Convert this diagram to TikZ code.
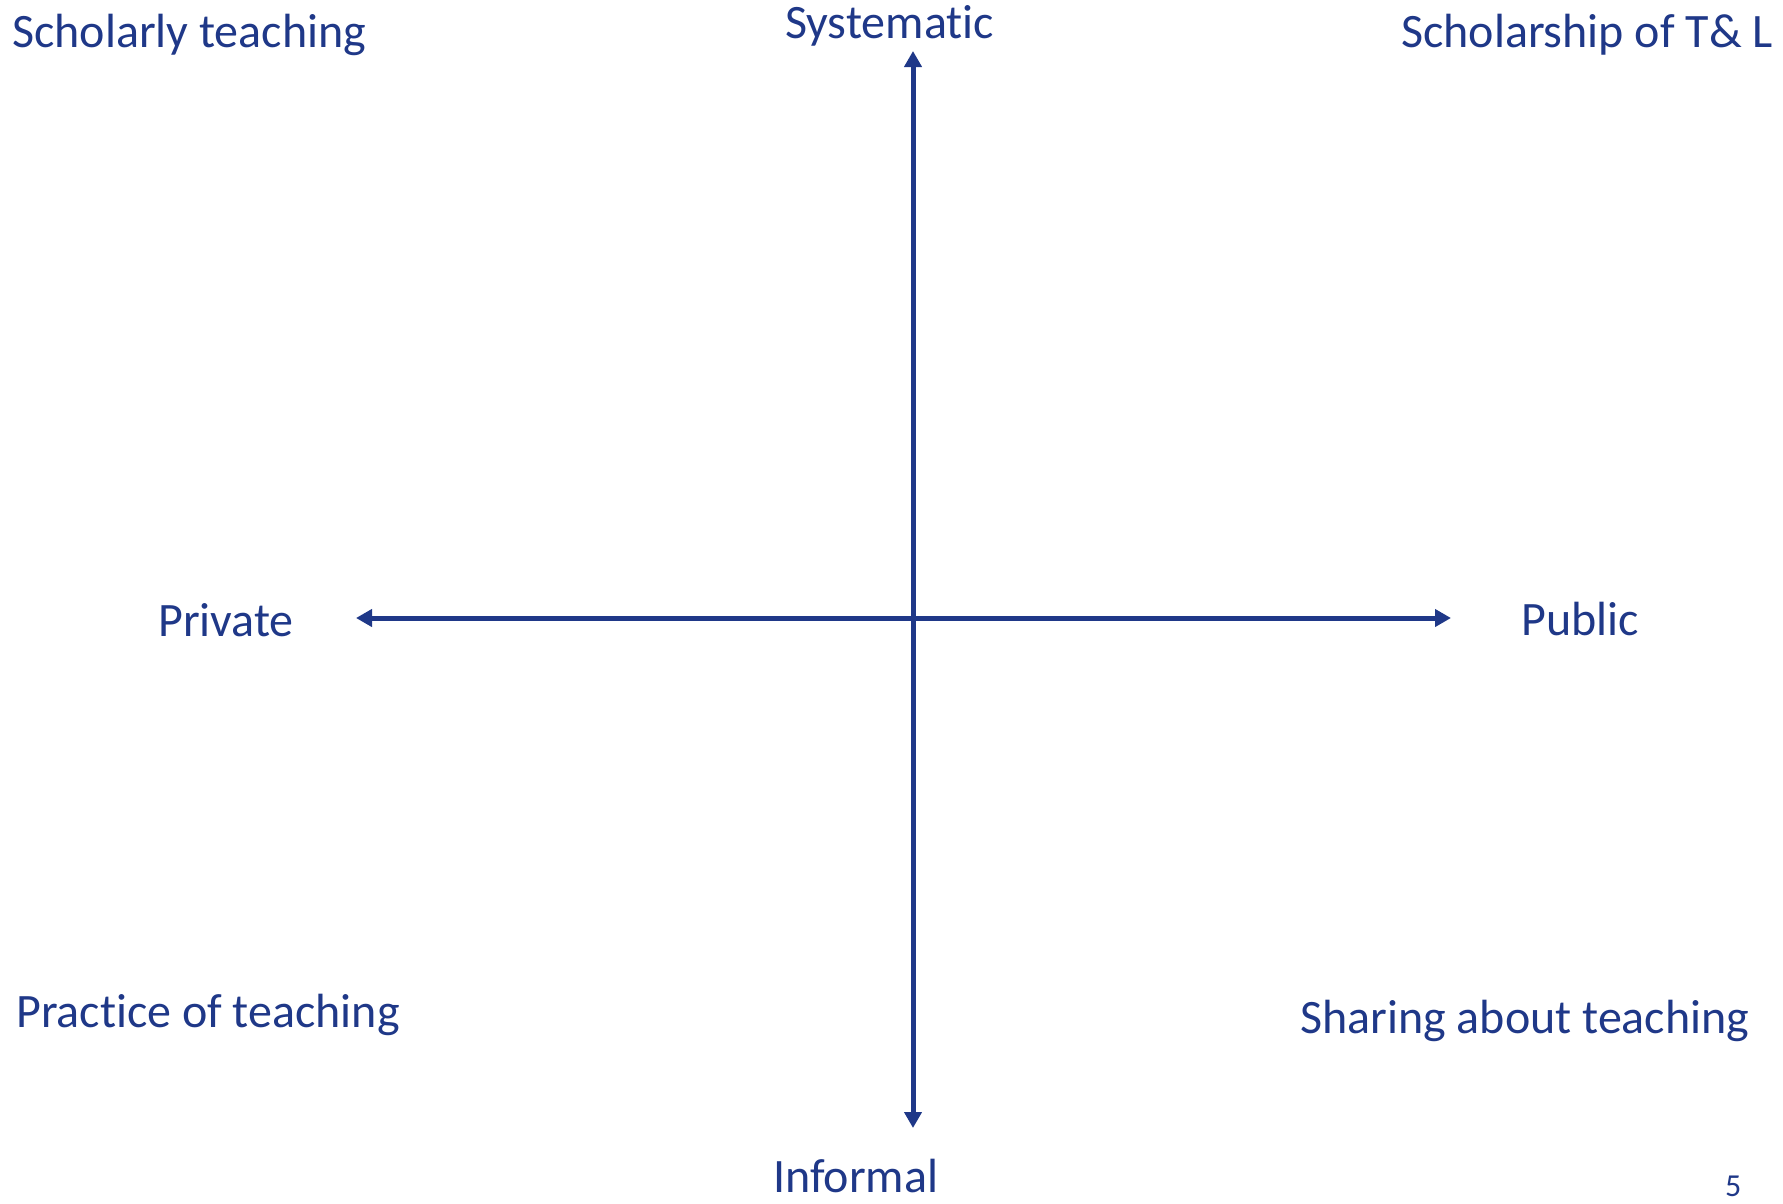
\documentclass[tikz,border=0pt]{standalone}
\usepackage{fontspec}
\setmainfont{Carlito}[Ligatures=NoCommon]
\usetikzlibrary{arrows.meta}
\definecolor{navy}{RGB}{31,56,136}
\begin{document}
\begin{tikzpicture}[x=1pt,y=-1pt,
  lbl/.style={anchor=base west,inner sep=0pt,text=navy,font=\fontsize{48}{56}\selectfont},
  axis/.style={draw=navy,line width=5pt,{Triangle[length=16pt,width=17pt]}-{Triangle[length=16pt,width=17pt]}}]
\useasboundingbox (0,0) rectangle (1783,1203);
\node[lbl] (st) at (12,47) {Scholarly teaching};
\node[lbl] (sys) at (785,38) {Systematic};
\node[lbl] (sotl) at (1401,47) {Scholarship of T\& L};
\node[lbl] (priv) at (158,636) {Private};
\node[lbl] (pub) at (1521,635) {Public};
\node[lbl] (pot) at (16,1027) {Practice of teaching};
\node[lbl] (sat) at (1300,1033) {Sharing about teaching};
\node[lbl] (inf) at (773,1192) {Informal};
\node[lbl,font=\fontsize{32}{38}\selectfont] (pg) at (1725,1196) {5};
\coordinate (top) at (913,51);
\coordinate (bot) at (913,1128);
\coordinate (left) at (356,618);
\coordinate (right) at (1451,618);
\draw[axis] (top) -- (bot);
\draw[axis] (left) -- (right);
\end{tikzpicture}
\end{document}
